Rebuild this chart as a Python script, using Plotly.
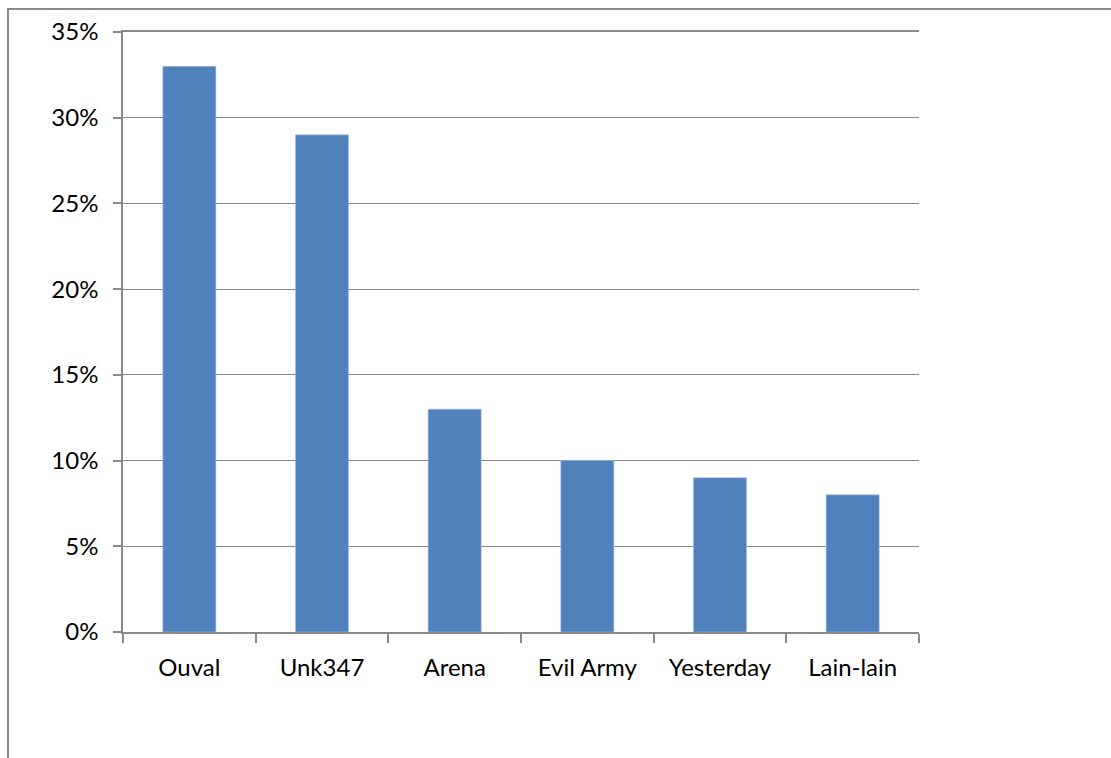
import plotly.graph_objects as go

categories = ["Ouval", "Unk347", "Arena", "Evil Army", "Yesterday", "Lain-lain"]
values = [0.33, 0.29, 0.13, 0.10, 0.09, 0.08]
tick_vals = [0, 0.05, 0.10, 0.15, 0.20, 0.25, 0.30, 0.35]
tick_text = ["0%", "5%", "10%", "15%", "20%", "25%", "30%", "35%"]

W, H = 1111, 758
L, R, T, B = 123, 192, 32, 126
pw = W - L - R
ph = H - T - B

grey = "#898989"
font = dict(family="Lato, 'Open Sans', sans-serif", size=24, color="#000000")

fig = go.Figure(go.Bar(
    x=categories, y=values,
    marker=dict(color="#4F81BD", line=dict(color="#A7C0E0", width=0.6)),
    width=0.4,
))

fig.update_layout(
    width=W, height=H,
    margin=dict(l=L, r=R, t=T, b=B, pad=0),
    paper_bgcolor="white", plot_bgcolor="white",
    font=font, showlegend=False,
    xaxis=dict(
        showline=True, linecolor=grey, linewidth=1.5, mirror=True,
        ticks="outside", tickson="boundaries", ticklen=9, tickcolor=grey, tickwidth=1.5,
        showgrid=False, tickfont=font, ticklabelstandoff=13,
    ),
    yaxis=dict(
        range=[0, 0.35], tickvals=tick_vals, ticktext=tick_text,
        showline=True, linecolor=grey, linewidth=1.5,
        ticks="outside", ticklen=8, tickcolor=grey, tickwidth=1.5,
        showgrid=True, gridcolor=grey, gridwidth=1,
        zeroline=False, tickfont=font, ticklabelstandoff=10,
    ),
)

# outer chart-area border
fig.add_shape(
    type="rect", xref="paper", yref="paper",
    x0=(8 - L) / pw, x1=(W + 10 - L) / pw,
    y0=(T + ph - (H + 10)) / ph, y1=(T + ph - 9) / ph,
    line=dict(color=grey, width=2), fillcolor="rgba(0,0,0,0)", layer="below",
)

fig.write_html("out.html")
